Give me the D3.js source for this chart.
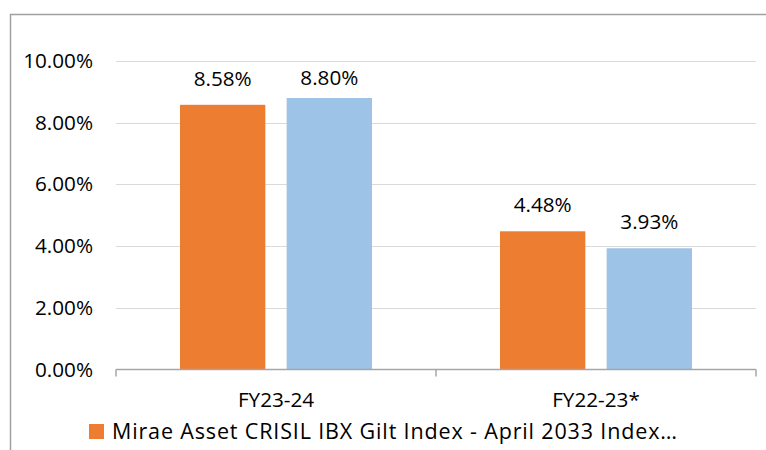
<!DOCTYPE html>
<html><head><meta charset="utf-8">
<script src="https://cdn.jsdelivr.net/npm/d3@7"></script>
<style>body{margin:0;background:#fff}text{font-family:"Open Sans",sans-serif;fill:#000}</style>
</head><body><svg id="c" width="766" height="450"></svg>
<script>
const categories = ["FY23-24", "FY22-23*"];
const seriesNames = ["Mirae Asset CRISIL IBX Gilt Index - April 2033 Index Fund", "CRISIL IBX Gilt Index - April 2033"];
const series1 = [8.58, 4.48];
const series2 = [8.80, 3.93];
const yTicks = [0, 2, 4, 6, 8, 10];
const colors = ["#ED7D31", "#9DC3E6"];

const svg = d3.select("#c");
const W = 766, H = 450;
const m = {left:116, right:10, top:61, bottom:80.5};
const x0 = d3.scaleBand().domain(categories).range([m.left, W - m.right]).paddingInner(0).paddingOuter(0);
const x1 = d3.scaleBand().domain([0,1]).range([0, x0.bandwidth()]).paddingInner(0.2).paddingOuter(0.6);
const y = d3.scaleLinear().domain([0, 10]).range([H - m.bottom, m.top]);

// outer border
svg.append("path").attr("d", `M10.5,${H+2}V14.5H${W+2}`).attr("fill","none").attr("stroke","#a0a0a0").attr("stroke-width",1.5);

// gridlines
svg.append("g").selectAll("line").data(yTicks.filter(t=>t>0)).join("line")
  .attr("x1", m.left).attr("x2", W - m.right)
  .attr("y1", d=>Math.round(y(d))+0.5).attr("y2", d=>Math.round(y(d))+0.5)
  .attr("stroke","#d9d9d9").attr("stroke-width",1.2);

// y labels
svg.append("g").selectAll("text").data(yTicks).join("text")
  .attr("x", 93).attr("y", d=>y(d)+7).attr("text-anchor","end")
  .style("font-size","20.7px").text(d=>d.toFixed(2)+"%");

// bars
const data = categories.map((c,i)=>({c, vals:[series1[i], series2[i]]}));
const g = svg.append("g");
data.forEach(d=>{
  d.vals.forEach((v,j)=>{
    const bx = x0(d.c) + x1(j);
    g.append("rect").attr("x", bx).attr("width", x1.bandwidth())
      .attr("y", y(v)).attr("height", y(0)-y(v)).attr("fill", colors[j]);
    g.append("text").attr("x", bx + x1.bandwidth()/2)
      .attr("y", Math.max(y(v) - 19, y(10) + 24))
      .attr("text-anchor","middle").style("font-size","20.7px").text(v.toFixed(2)+"%");
  });
});

// x axis
const xa = svg.append("g");
xa.append("line").attr("x1", m.left).attr("x2", W - m.right).attr("y1", y(0)).attr("y2", y(0))
  .attr("stroke","#a6a6a6").attr("stroke-width",1.5);
const tickX = [x0.range()[0], ...categories.map(c=>x0(c)+x0.bandwidth())];
xa.selectAll("line.t").data(tickX).join("line").attr("class","t")
  .attr("x1", d=>d).attr("x2", d=>d).attr("y1", y(0)).attr("y2", y(0)+7)
  .attr("stroke","#a6a6a6").attr("stroke-width",1.5);
xa.selectAll("text").data(categories).join("text")
  .attr("x", d=>x0(d)+x0.bandwidth()/2).attr("y", y(0)+37.5)
  .attr("text-anchor","middle").style("font-size","20.7px").text(d=>d);

// legend
const lg = svg.append("g");
lg.append("rect").attr("x", 89).attr("y", 424).attr("width", 15).attr("height", 15).attr("fill", colors[0]);
lg.append("text").attr("x", 112).attr("y", 438.5).style("font-size","21.5px")
  .attr("textLength", 565).attr("lengthAdjust","spacing")
  .text("Mirae Asset CRISIL IBX Gilt Index - April 2033 Index…");
</script></body></html>
